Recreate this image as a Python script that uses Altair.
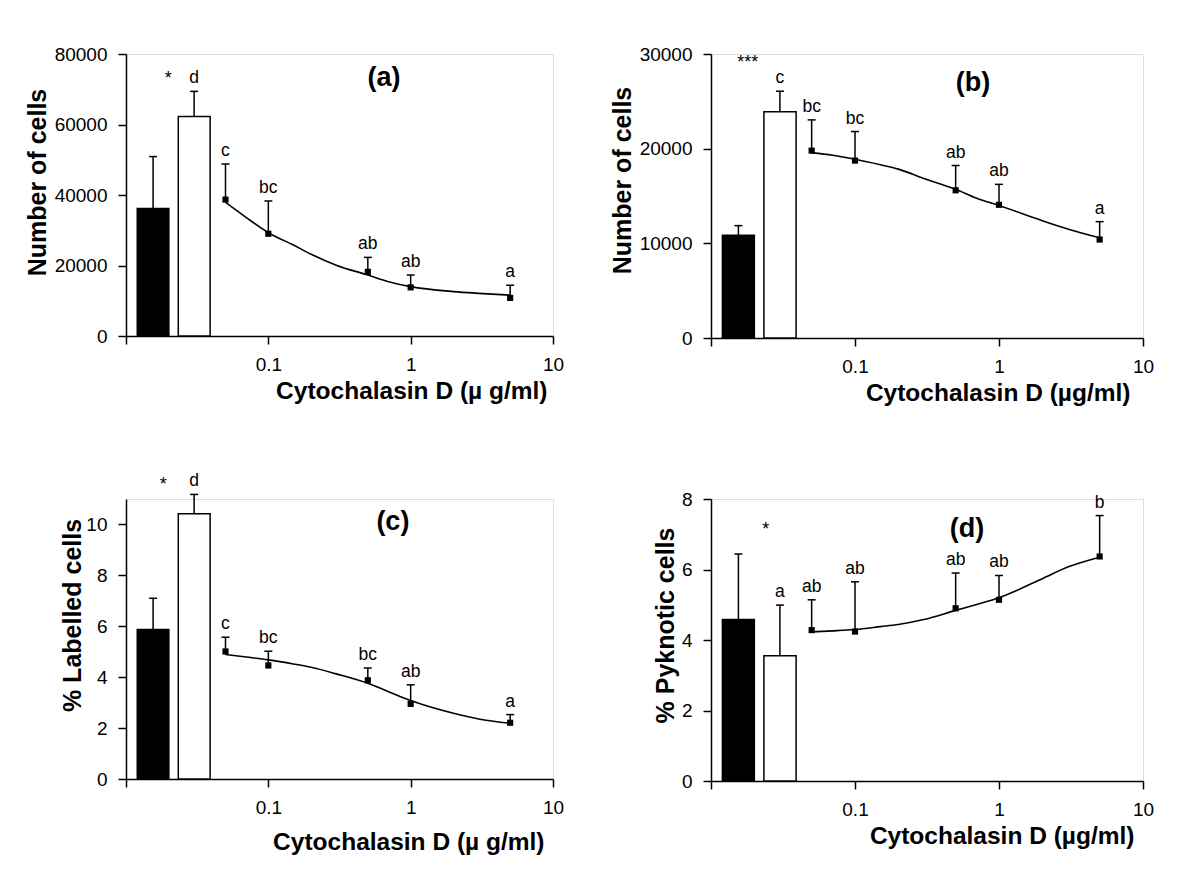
import altair as alt
import pandas as pd

FONT = "Liberation Sans"

# shared x positions
doses = [0.05, 0.1, 0.5, 1, 5]
bar_groups = ["control", "vehicle"]
bar_left = [0.0120, 0.0233]
bar_right = [0.0200, 0.0390]
bar_center = [0.0155, 0.0301]
curve_x = [0.05, 0.07, 0.1, 0.15, 0.2, 0.3, 0.5, 0.7, 1, 2, 3, 5]

# panel (a)
a_bar_mean = [36200, 62300]
a_bar_top = [50900, 69400]
a_bar_letters = ["", "d"]
a_mean = [38700, 29000, 18200, 13800, 10800]
a_top = [48800, 38300, 22300, 17300, 14400]
a_letters = ["c", "bc", "ab", "ab", "a"]
a_curve = [37900, 33600, 29300, 25800, 23200, 20100, 17300, 15400, 14000, 12600, 12100, 11600]

# panel (b)
b_bar_mean = [10850, 23900]
b_bar_top = [11870, 26070]
b_bar_letters = ["", "c"]
b_mean = [19790, 18740, 15600, 14070, 10400]
b_top = [23040, 21810, 18220, 16230, 12290]
b_letters = ["bc", "bc", "ab", "ab", "a"]
b_curve = [19580, 19300, 18880, 18300, 17840, 16860, 15710, 14760, 14000, 12390, 11520, 10580]

# panel (c)
c_bar_mean = [5.87, 10.42]
c_bar_top = [7.10, 11.18]
c_bar_letters = ["", "d"]
c_mean = [5.01, 4.46, 3.88, 2.95, 2.21]
c_top = [5.57, 5.02, 4.36, 3.70, 2.53]
c_letters = ["c", "bc", "bc", "ab", "a"]
c_curve = [4.89, 4.79, 4.68, 4.52, 4.39, 4.13, 3.76, 3.43, 3.08, 2.58, 2.36, 2.19]

# panel (d)
d_bar_mean = [4.58, 3.55]
d_bar_top = [6.44, 4.99]
d_bar_letters = ["", "a"]
d_mean = [4.28, 4.24, 4.90, 5.14, 6.37]
d_top = [5.14, 5.65, 5.90, 5.83, 7.53]
d_letters = ["ab", "ab", "ab", "ab", "b"]
d_curve = [4.23, 4.26, 4.30, 4.38, 4.44, 4.58, 4.84, 5.01, 5.20, 5.74, 6.07, 6.35]

x_ticks = [0.01, 0.1, 1, 10]


def make_panel(bar_mean, bar_top, bar_letters, mean, top, letters, curve,
               ymax, yticks, ytitle, xtitle, tag, tag_pos, star, star_pos,
               w, h, title_x, title_y, xtitle_pad, xtitle_inset):
    xscale = alt.Scale(type="log", domain=[0.01, 10])
    yscale = alt.Scale(domain=[0, ymax], nice=False, zero=True)
    xaxis = alt.Axis(values=x_ticks, format="~g",
                     labelExpr="datum.value < 0.05 ? '' : datum.label",
                     grid=False, tickSize=8, tickWidth=1.5, domainWidth=1.5,
                     domainColor="black", tickColor="black",
                     labelFont=FONT, labelFontSize=19, labelColor="black",
                     labelPadding=11, labelFlush=False,
                     title=xtitle, titleFont=FONT, titleFontSize=24.5,
                     titleFontWeight="bold", titleColor="black",
                     titleAnchor="end", titleAlign="right",
                     titleX=w - xtitle_inset, titlePadding=xtitle_pad)
    yaxis = alt.Axis(values=yticks, format="d", grid=False, tickSize=8,
                     tickWidth=1.5, domainWidth=1.5, domainColor="black",
                     tickColor="black", labelFont=FONT, labelFontSize=19,
                     labelColor="black", labelPadding=11, labelFlush=False,
                     title=ytitle, titleFont=FONT, titleFontSize=25,
                     titleFontWeight="bold", titleColor="black",
                     titleX=title_x, titleY=title_y, titleAlign="center",
                     titleBaseline="middle")

    def X(f):
        return alt.X(f, type="quantitative", scale=xscale, axis=xaxis)

    def Y(f):
        return alt.Y(f, type="quantitative", scale=yscale, axis=yaxis)

    bars_df = pd.DataFrame({"left": bar_left, "right": bar_right,
                            "y": bar_mean, "group": bar_groups})
    err_df = pd.DataFrame({"x": bar_center + doses,
                           "y": bar_mean + mean,
                           "top": bar_top + top,
                           "letter": bar_letters + letters})
    pts_df = pd.DataFrame({"x": doses, "y": mean})
    curve_df = pd.DataFrame({"x": curve_x, "y": curve})
    tag_df = pd.DataFrame({"x": [tag_pos[0]], "y": [tag_pos[1]], "t": [tag]})
    star_df = pd.DataFrame({"x": [star_pos[0]], "y": [star_pos[1]], "t": [star]})

    bars = alt.Chart(bars_df).mark_bar(stroke="black", strokeWidth=1.5).encode(
        x=X("left"), x2="right", y=Y("y"), y2=alt.datum(0),
        fill=alt.Fill("group:N", scale=alt.Scale(domain=bar_groups,
                                                  range=["black", "white"]),
                      legend=None))
    rules = alt.Chart(err_df).mark_rule(color="black", strokeWidth=1.5).encode(
        x=X("x"), y=Y("y"), y2="top")
    caps = alt.Chart(err_df).mark_tick(orient="horizontal", size=8,
                                       thickness=1.5, color="black",
                                       opacity=1).encode(x=X("x"), y=Y("top"))
    line = alt.Chart(curve_df).mark_line(color="black", strokeWidth=1.6,
                                         interpolate="monotone").encode(
        x=X("x"), y=Y("y"))
    squares = alt.Chart(pts_df).mark_square(size=38, color="black", opacity=1,
                                            filled=True).encode(x=X("x"), y=Y("y"))
    texts = alt.Chart(err_df).mark_text(baseline="bottom", dy=-4, fontSize=17.5,
                                        font=FONT, color="black").encode(
        x=X("x"), y=Y("top"), text="letter:N")
    tags = alt.Chart(tag_df).mark_text(fontSize=27, fontWeight="bold",
                                       font=FONT, color="black").encode(
        x=X("x"), y=Y("y"), text="t:N")
    stars = alt.Chart(star_df).mark_text(fontSize=18, font=FONT,
                                         color="black").encode(
        x=X("x"), y=Y("y"), text="t:N")
    return alt.layer(bars, rules, caps, line, squares, texts, tags, stars).properties(
        width=w, height=h)


pa = make_panel(a_bar_mean, a_bar_top, a_bar_letters, a_mean, a_top, a_letters,
                a_curve, 80000, [0, 20000, 40000, 60000, 80000],
                "Number of cells", "Cytochalasin D (µ g/ml)", "(a)",
                (0.65, 73200), "*", (0.0198, 72900), 427, 282, -89, 128, 5, 6)
pb = make_panel(b_bar_mean, b_bar_top, b_bar_letters, b_mean, b_top, b_letters,
                b_curve, 30000, [0, 10000, 20000, 30000],
                "Number of cells", "Cytochalasin D (µg/ml)", "(b)",
                (0.66, 26970), "***", (0.018, 29100), 432, 284, -89, 126, 5, 13)
pc = make_panel(c_bar_mean, c_bar_top, c_bar_letters, c_mean, c_top, c_letters,
                c_curve, 11, [0, 2, 4, 6, 8, 10],
                "% Labelled cells", "Cytochalasin D (µ g/ml)", "(c)",
                (0.75, 10.1), "*", (0.0183, 11.55), 427, 280, -54, 116, 13, 9)
pd_ = make_panel(d_bar_mean, d_bar_top, d_bar_letters, d_mean, d_top, d_letters,
                 d_curve, 8, [0, 2, 4, 6, 8],
                 "% Pyknotic cells", "Cytochalasin D (µg/ml)", "(d)",
                 (0.60, 7.15), "*", (0.024, 7.13), 432, 282, -46, 126, 5, 9)

chart = alt.concat(pa, pb, pc, pd_, columns=2,
                   spacing=alt.RowColnumber(row=66, column=44)).properties(
    padding={"left": 16, "top": 36, "right": 5, "bottom": 5}
).configure_view(stroke=None).configure(font=FONT)

chart.save("out.html", embed_options={"renderer": "svg", "actions": False})
